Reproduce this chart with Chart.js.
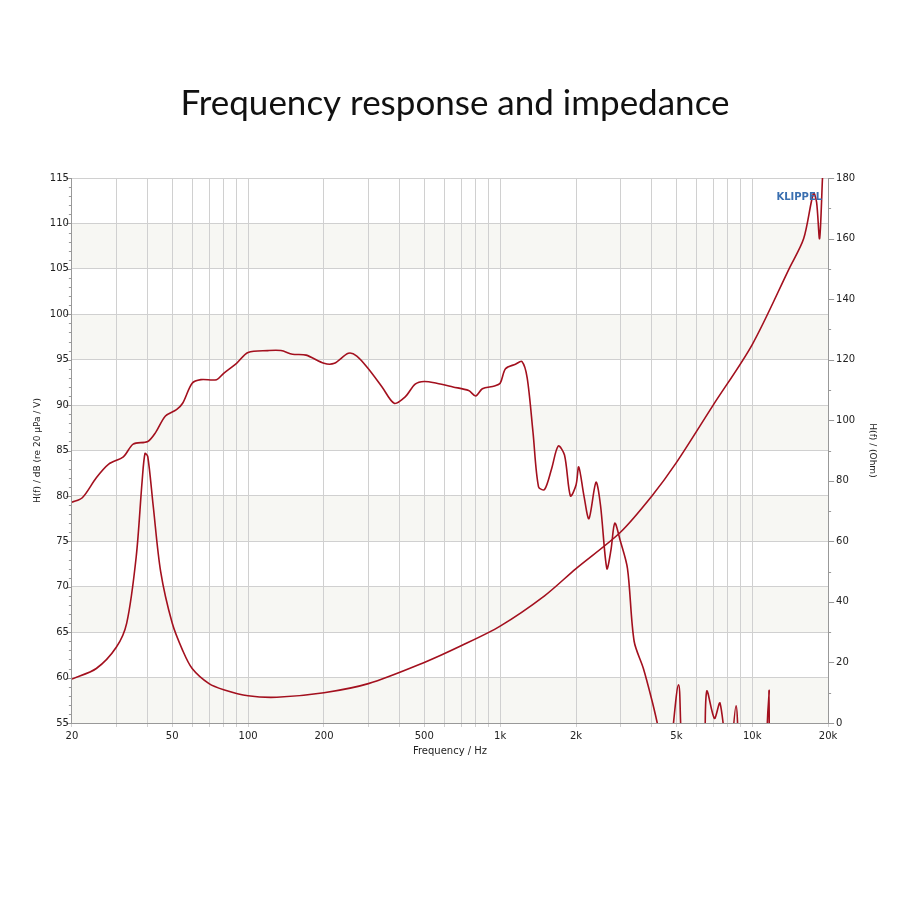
<!DOCTYPE html>
<html>
<head>
<meta charset="utf-8">
<script src="https://cdn.jsdelivr.net/npm/chart.js@4"></script>
<style>
  body { margin: 0; background: #fff; }
  #wrap { width: 900px; height: 900px; position: relative; }
</style>
</head>
<body>
<div id="wrap"><canvas id="myChart" width="900" height="900"></canvas></div>
<script>
const splFreq = [20, 22, 25, 28, 32, 35, 40, 43, 47, 52, 55, 60, 65, 75, 80, 90, 100, 120, 135, 150, 170, 200, 220, 250, 270, 300, 340, 380, 420, 460, 500, 560, 650, 750, 800, 850, 950, 1000, 1050, 1150, 1220, 1280, 1350, 1420, 1500, 1600, 1700, 1800, 1900, 2000, 2050, 2150, 2250, 2400, 2500, 2650, 2750, 2850, 3000, 3200, 3400, 3700, 4000, 4200, 4600, 5100, 5400, 6300, 6600, 7080, 7450, 8100, 8630, 9200, 11300, 11670, 12000, 20000];
const splDb = [79.3, 79.8, 82, 83.5, 84.3, 85.7, 86, 87, 88.8, 89.5, 90.2, 92.4, 92.8, 92.8, 93.5, 94.6, 95.8, 96, 96, 95.6, 95.5, 94.6, 94.6, 95.7, 95.4, 94, 92, 90.2, 90.9, 92.3, 92.6, 92.4, 92, 91.6, 91, 91.8, 92.1, 92.4, 94, 94.5, 94.8, 93, 87, 81, 80.7, 83, 85.5, 84.5, 80, 81.2, 83.2, 80, 77.5, 81.5, 79, 72, 74, 77, 75, 72, 64, 61, 57.5, 55, 50, 59.2, 50, 50, 58.5, 55.5, 57.2, 50, 56.9, 50, 50, 58.6, 50, 50];

const impFreq = [20, 25, 30, 33, 36, 38, 39, 40, 42, 45, 50, 55, 60, 70, 80, 100, 130, 200, 300, 500, 700, 1000, 1500, 2000, 3000, 4000, 5000, 7000, 10000, 14000, 16000, 17500, 18000, 18500, 19000];
const impOhm = [14.5, 18, 25, 33, 55, 80, 89, 88, 72, 50, 33, 24, 18, 13, 11, 9, 8.5, 10, 13, 20, 25.5, 32, 42, 51, 63, 75, 86, 105, 125, 150, 160, 175, 172, 160, 180];

const xTicks = [20, 30, 40, 50, 60, 70, 80, 90, 100, 200, 300, 400, 500, 600, 700, 800, 900, 1000, 2000, 3000, 4000, 5000, 6000, 7000, 8000, 9000, 10000, 20000];
const xLabels = { 20: "20", 50: "50", 100: "100", 200: "200", 500: "500", 1000: "1k", 2000: "2k", 5000: "5k", 10000: "10k", 20000: "20k" };

const lineColor = "#a3101e";

const bands = {
  id: "bands",
  beforeDraw(chart) {
    const { ctx, chartArea, scales } = chart;
    const y = scales.y;
    ctx.save();
    ctx.fillStyle = "#f7f7f3";
    for (let v = 55; v < 115; v += 10) {
      const top = y.getPixelForValue(v + 5);
      const bot = y.getPixelForValue(v);
      ctx.fillRect(chartArea.left, top, chartArea.right - chartArea.left, bot - top);
    }
    // minor ticks on both y axes
    ctx.strokeStyle = "#999";
    ctx.lineWidth = 1;
    for (let v = 55; v <= 115; v++) {
      const py = Math.round(y.getPixelForValue(v)) + 0.5;
      ctx.beginPath();
      ctx.moveTo(chartArea.left - (v % 5 === 0 ? 6 : 3), py);
      ctx.lineTo(chartArea.left, py);
      ctx.stroke();
    }
    const y1 = scales.y1;
    for (let v = 0; v <= 180; v += 10) {
      const py = Math.round(y1.getPixelForValue(v)) + 0.5;
      ctx.beginPath();
      ctx.moveTo(chartArea.right, py);
      ctx.lineTo(chartArea.right + (v % 20 === 0 ? 6 : 3), py);
      ctx.stroke();
    }
    ctx.restore();
  },
  afterDraw(chart) {
    const { ctx, chartArea } = chart;
    ctx.save();
    ctx.fillStyle = "#3a6fb0";
    ctx.font = "bold 10px 'DejaVu Sans'";
    ctx.textAlign = "right";
    ctx.fillText("KLIPPEL", chartArea.right - 6, chartArea.top + 22);
    ctx.restore();
  }
};

const ctx = document.getElementById("myChart").getContext("2d");
new Chart(ctx, {
  type: "line",
  data: {
    datasets: [
      {
        data: splFreq.map((f, i) => ({ x: f, y: splDb[i] })),
        borderColor: lineColor, borderWidth: 1.6, pointRadius: 0, tension: 0.3, yAxisID: "y"
      },
      {
        data: impFreq.map((f, i) => ({ x: f, y: impOhm[i] })),
        borderColor: lineColor, borderWidth: 1.6, pointRadius: 0, tension: 0.3, yAxisID: "y1"
      }
    ]
  },
  options: {
    responsive: false,
    animation: false,
    layout: { padding: { left: 28, right: 18, top: 43, bottom: 143 } },
    plugins: {
      legend: { display: false },
      tooltip: { enabled: false },
      title: {
        display: true,
        text: "Frequency response and impedance",
        color: "#111",
        font: { family: "Lato", size: 35, weight: "normal" },
        padding: { top: 40, bottom: 53 }
      }
    },
    scales: {
      x: {
        type: "logarithmic", min: 20, max: 20000,
        afterBuildTicks: (s) => { s.ticks = xTicks.map(v => ({ value: v })); },
        ticks: {
          autoSkip: false, maxRotation: 0, color: "#222",
          font: { family: "DejaVu Sans", size: 10 },
          callback: (v) => xLabels[v] || ""
        },
        grid: { color: "#d0d0d0", tickLength: 4 },
        border: { color: "#999" },
        title: { display: true, text: "Frequency / Hz", color: "#222", font: { family: "DejaVu Sans", size: 10 }, padding: 0 }
      },
      y: {
        position: "left", min: 55, max: 115,
        ticks: { stepSize: 5, color: "#222", font: { family: "DejaVu Sans", size: 10 } },
        grid: { color: "#d0d0d0", drawTicks: false },
        border: { color: "#999" },
        title: { display: true, text: "H(f) / dB (re 20 µPa / V)", color: "#222", font: { family: "DejaVu Sans", size: 9 } }
      },
      y1: {
        position: "right", min: 0, max: 180,
        ticks: { stepSize: 20, color: "#222", font: { family: "DejaVu Sans", size: 10 }, padding: 8 },
        grid: { display: false, drawTicks: false },
        border: { color: "#999" },
        title: { display: true, text: "H(f) / (Ohm)", color: "#222", font: { family: "DejaVu Sans", size: 9 } }
      }
    }
  },
  plugins: [bands]
});
</script>
</body>
</html>
